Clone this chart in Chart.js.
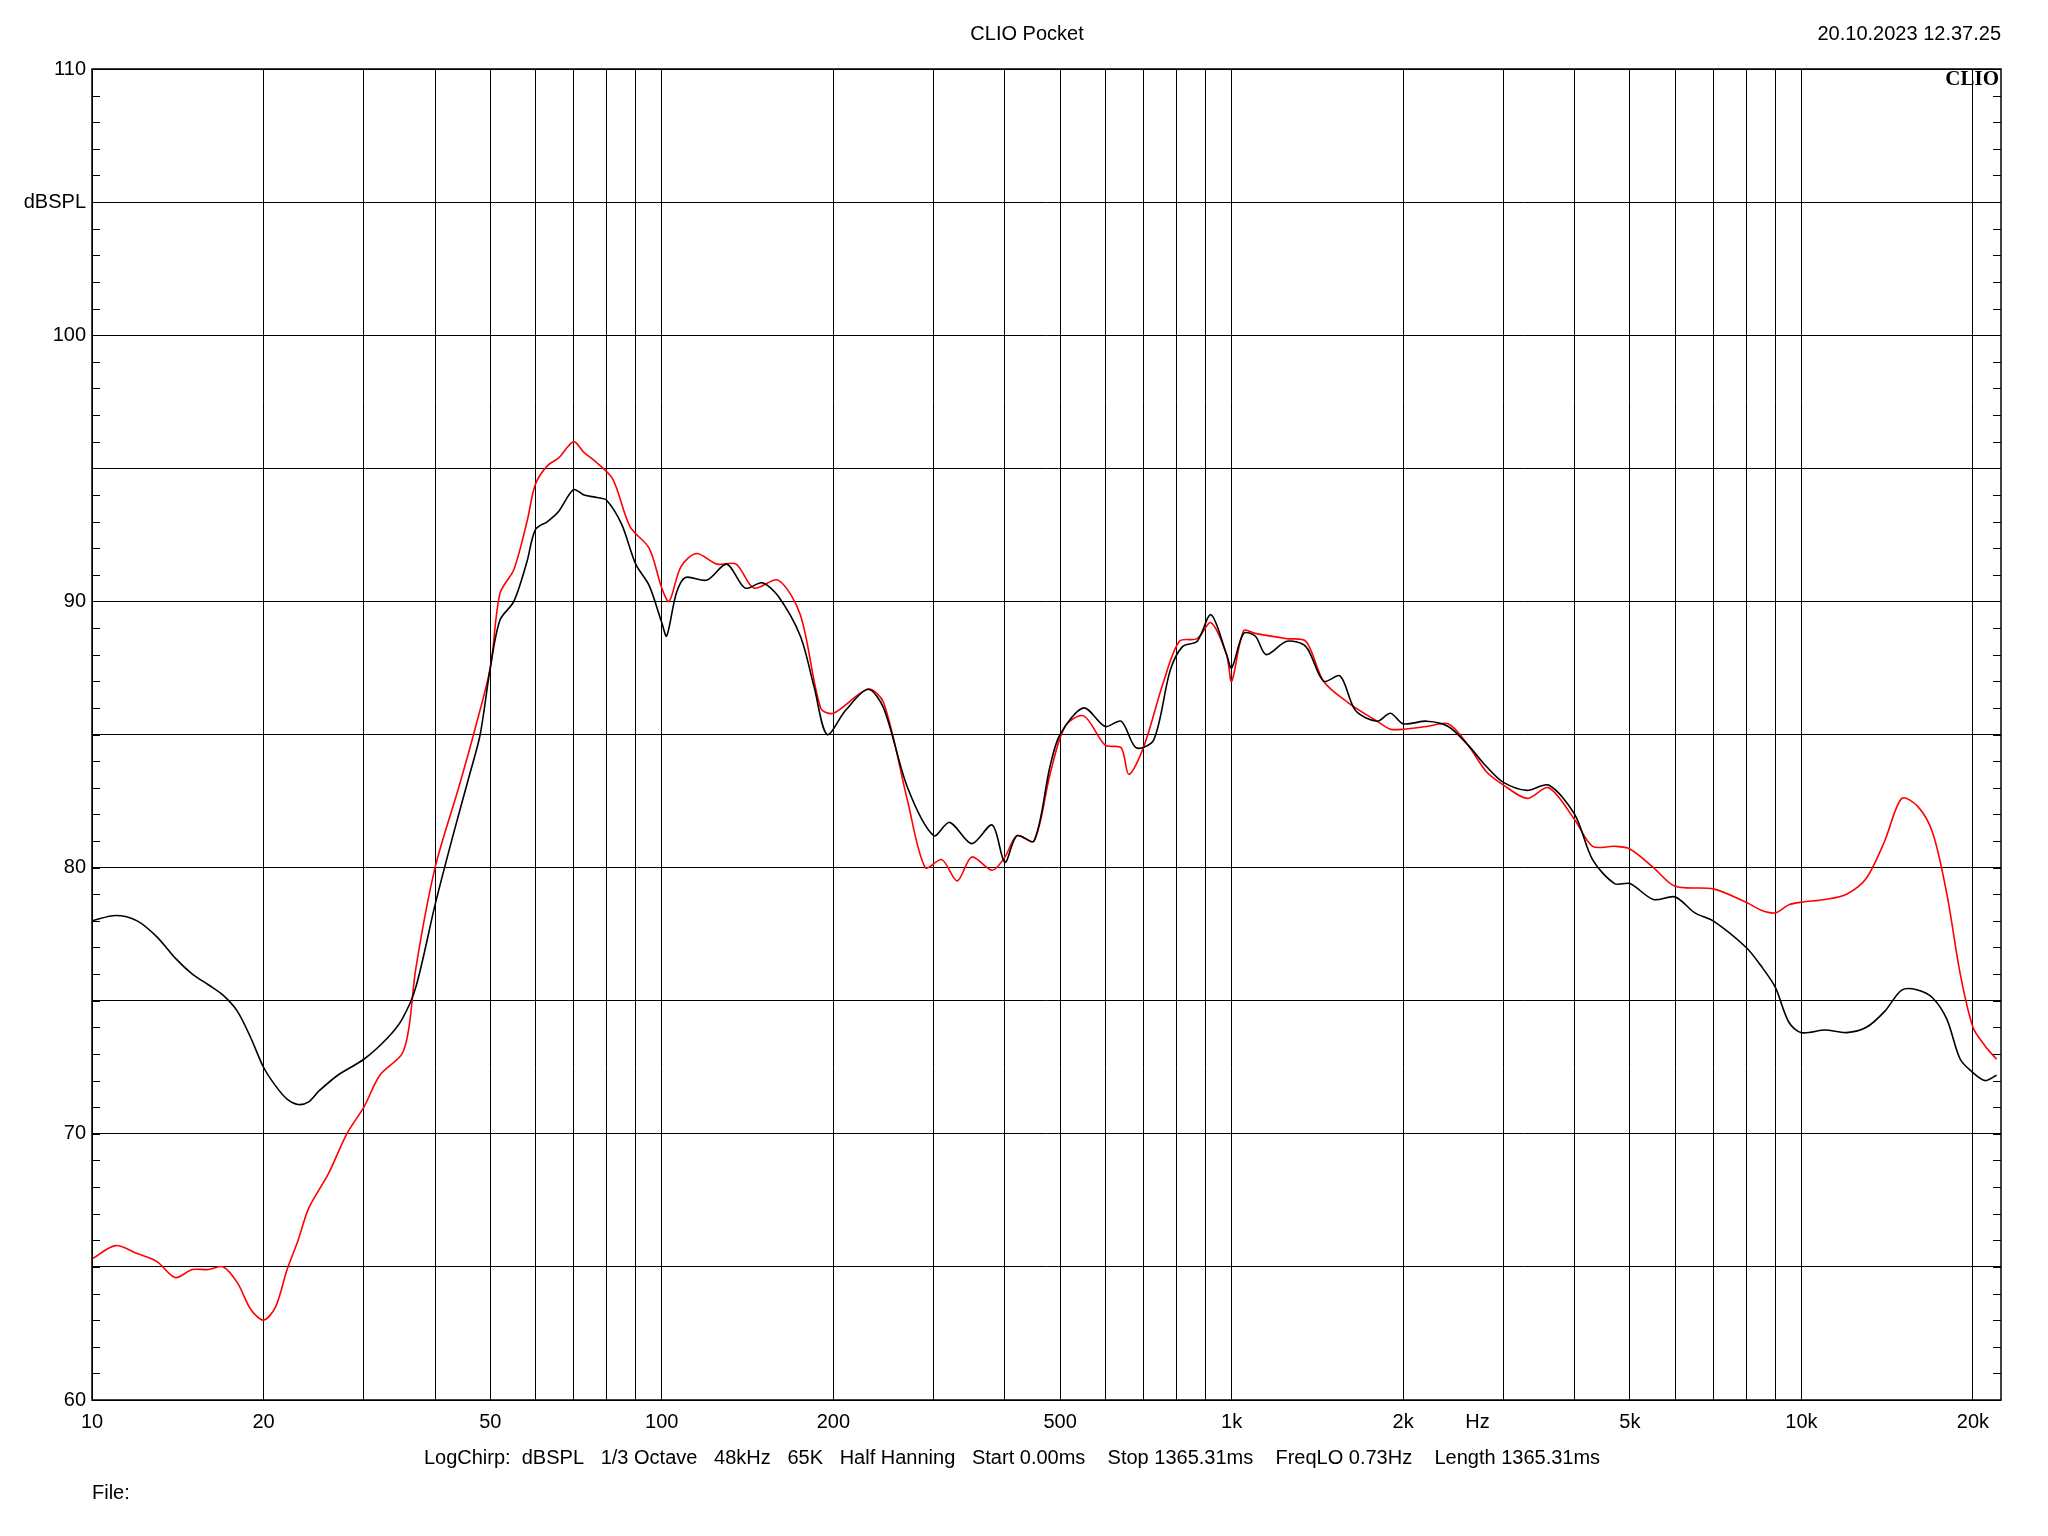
<!DOCTYPE html>
<html><head><meta charset="utf-8">
<script src="https://cdn.jsdelivr.net/npm/chart.js@4/dist/chart.umd.min.js"></script>
<style>html,body{margin:0;background:#fff}</style>
</head><body>
<canvas id="c" width="2048" height="1536"></canvas>
<script>
// frequency response, black = measurement 1, red = measurement 2
var freqBlack = [10,11,12,13,14,15,16,17,18,19,20,21,22,23,24,25,27,30,33,35,37,40,43,46,48,50,52,55,58,60,63,66,70,73,77,80,85,90,95,100,102,106,110,120,130,140,150,160,175,185,195,210,230,245,270,300,320,350,380,400,420,450,480,500,550,600,640,680,730,780,820,870,920,980,1000,1050,1100,1150,1250,1350,1450,1550,1650,1800,1900,2000,2200,2400,2600,2800,3000,3300,3600,4000,4300,4700,5000,5500,6000,6500,7000,8000,8500,9000,9500,10000,11000,12000,13000,14000,15000,16000,17000,18000,19000,20000,21000,22000];
var dbBlack = [78.0,78.2,78.0,77.4,76.6,76.0,75.6,75.2,74.6,73.6,72.5,71.8,71.3,71.1,71.2,71.6,72.2,72.8,73.6,74.3,75.5,78.6,81.2,83.5,85.0,87.5,89.3,90.0,91.5,92.7,93.0,93.4,94.2,94.0,93.9,93.8,92.9,91.4,90.6,89.2,88.7,90.3,90.9,90.8,91.4,90.5,90.7,90.2,88.7,86.8,85.0,85.9,86.7,86.0,83.0,81.2,81.7,80.9,81.6,80.2,81.2,81.0,83.8,85.0,86.0,85.3,85.5,84.5,84.8,87.4,88.3,88.5,89.5,88.0,87.5,88.8,88.7,88.0,88.5,88.3,87.0,87.2,85.9,85.5,85.8,85.4,85.5,85.3,84.6,83.8,83.2,82.9,83.1,82.0,80.3,79.4,79.4,78.8,78.9,78.3,78.0,77.0,76.3,75.5,74.2,73.8,73.9,73.8,74.0,74.6,75.4,75.4,75.1,74.3,72.8,72.3,72.0,72.2];
var freqRed = [10,11,12,13,14,15,16,17,18,19,20,21,22,23,24,26,28,30,32,35,36,37,40,44,47,50,52,55,58,60,63,66,70,73,77,82,88,95,100,103,108,115,125,135,145,160,175,190,200,230,245,270,290,310,330,350,380,400,420,450,480,510,550,600,640,660,700,760,810,870,920,980,1000,1050,1100,1250,1350,1450,1600,1800,1900,2000,2200,2400,2600,2800,3000,3300,3600,4000,4300,4700,5000,5500,6000,7000,8000,8500,9000,9500,10000,11000,12000,13000,14000,15000,16000,17000,18000,19000,20000,21000,22000];
var dbRed = [65.3,65.8,65.5,65.2,64.6,64.9,64.9,65.0,64.4,63.4,63.0,63.5,64.9,66.0,67.2,68.5,70.0,71.0,72.2,73.0,74.0,76.2,80.0,83.0,85.2,87.5,90.3,91.2,93.0,94.4,95.1,95.4,96.0,95.6,95.2,94.6,92.8,92.0,90.5,90.0,91.3,91.8,91.4,91.4,90.5,90.8,89.5,86.0,85.8,86.7,86.2,82.5,80.0,80.3,79.5,80.4,79.9,80.4,81.2,81.0,83.5,85.3,85.7,84.6,84.5,83.5,84.5,87.0,88.5,88.6,89.2,88.0,87.0,88.9,88.8,88.6,88.5,87.0,86.2,85.5,85.2,85.2,85.3,85.4,84.6,83.6,83.1,82.6,83.0,81.8,80.8,80.8,80.7,80.0,79.3,79.2,78.7,78.4,78.3,78.6,78.7,78.8,79.0,79.6,81.0,82.6,82.3,81.3,79.0,76.0,74.0,73.3,72.8];
var xGrid = [10,20,30,40,50,60,70,80,90,100,200,300,400,500,600,700,800,900,1000,2000,3000,4000,5000,6000,7000,8000,9000,10000,20000];
var xLabels = {10:'10',20:'20',50:'50',100:'100',200:'200',500:'500',1000:'1k',2000:'2k',2700:'Hz',5000:'5k',10000:'10k',20000:'20k'};
var yLabels = {60:'60',70:'70',80:'80',90:'90',100:'100',105:'dBSPL',110:'110'};
var infoLine = 'LogChirp:  dBSPL   1/3 Octave   48kHz   65K   Half Hanning   Start 0.00ms    Stop 1365.31ms    FreqLO 0.73Hz    Length 1365.31ms';

function pts(f, v) { return f.map(function (x, i) { return {x: x, y: v[i]}; }); }

var FONT = '20px "Liberation Sans", Arial, sans-serif';

var decor = {
    id: 'decor',
    afterDraw: function (chart) {
        var c = chart.ctx, a = chart.chartArea, xs = chart.scales.x, ys = chart.scales.y;
        c.save();
        c.fillStyle = '#000';
        c.strokeStyle = '#000';
        c.lineWidth = 1;
        c.font = FONT;
        // minor y ticks on both sides
        for (var v = 60; v <= 110; v++) {
            var py = Math.round(ys.getPixelForValue(v)) + 0.5;
            c.beginPath();
            c.moveTo(a.left, py); c.lineTo(a.left + 8, py);
            c.moveTo(a.right, py); c.lineTo(a.right - 8, py);
            c.stroke();
        }
        c.textAlign = 'right'; c.textBaseline = 'middle';
        for (var k in yLabels) c.fillText(yLabels[k], a.left - 6, ys.getPixelForValue(+k));
        c.textAlign = 'center'; c.textBaseline = 'top';
        for (var f in xLabels) c.fillText(xLabels[f], xs.getPixelForValue(+f), a.bottom + 12);
        c.fillText('CLIO Pocket', 1027, 24);
        c.textAlign = 'right';
        c.fillText('20.10.2023 12.37.25', a.right, 24);
        c.textAlign = 'center';
        c.fillText(infoLine, 1012, 1448);
        c.textAlign = 'left';
        c.fillText('File:', 92, 1483);
        c.textAlign = 'right';
        c.font = 'bold 21px "Liberation Serif", serif';
        c.fillText('CLIO', a.right - 2, 69);
        // frame
        c.lineWidth = 1.5;
        c.strokeRect(a.left, a.top, a.right - a.left, a.bottom - a.top);
        c.restore();
    }
};

var chart = new Chart(document.getElementById('c').getContext('2d'), {
    type: 'line',
    data: {
        datasets: [
            {label: 'black', data: pts(freqBlack, dbBlack), borderColor: '#000', borderWidth: 1.6, pointRadius: 0, tension: 0.3, fill: false},
            {label: 'red', data: pts(freqRed, dbRed), borderColor: '#f00', borderWidth: 1.6, pointRadius: 0, tension: 0.3, fill: false}
        ]
    },
    options: {
        responsive: false,
        animation: false,
        devicePixelRatio: 1,
        layout: {padding: {left: 92, right: 47, top: 69, bottom: 136}},
        plugins: {legend: {display: false}, tooltip: {enabled: false}},
        scales: {
            x: {
                type: 'logarithmic', min: 10, max: 22400,
                afterBuildTicks: function (s) { s.ticks = xGrid.map(function (v) { return {value: v}; }); },
                ticks: {display: false},
                grid: {color: '#000', lineWidth: 1, drawTicks: false},
                border: {display: false}
            },
            y: {
                min: 60, max: 110,
                ticks: {display: false, stepSize: 5},
                grid: {color: '#000', lineWidth: 1, drawTicks: false},
                border: {display: false}
            }
        }
    },
    plugins: [decor]
});
</script>
</body></html>
